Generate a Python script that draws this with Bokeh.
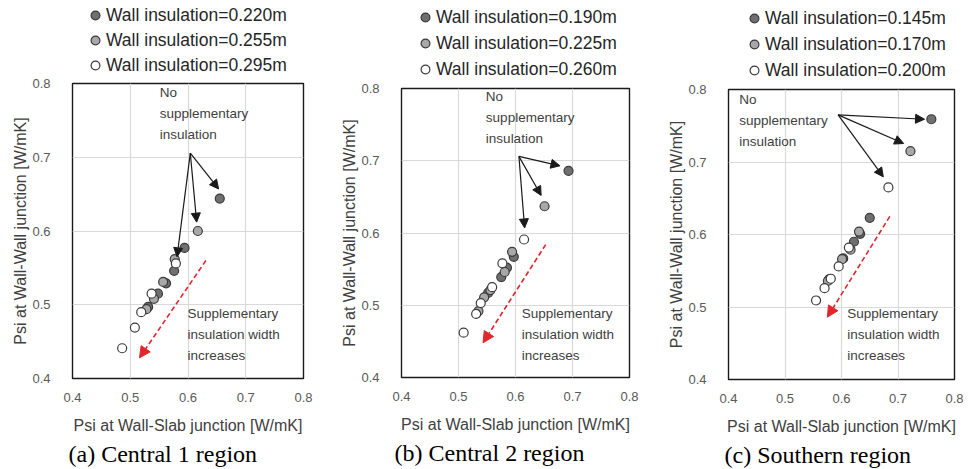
from bokeh.plotting import figure
from bokeh.layouts import row, column
from bokeh.models import (Range1d, FixedTicker, Label, Arrow, NormalHead,
                          Legend, LegendItem)
from bokeh.embed import file_html
from bokeh.resources import INLINE

# ---------------- data ----------------
ticks = [0.4, 0.5, 0.6, 0.7, 0.8]
tick_labels = ["0.4", "0.5", "0.6", "0.7", "0.8"]

x_title = "Psi at Wall-Slab junction [W/mK]"
y_title = "Psi at Wall-Wall junction [W/mK]"
note_top = "No\nsupplementary\ninsulation"
note_bottom = "Supplementary\ninsulation  width\nincreases"

# (a) Central 1 region
a_caption = "(a) Central 1 region"
a_labels = ["Wall insulation=0.220m", "Wall insulation=0.255m", "Wall insulation=0.295m"]
a_x_1 = [0.655, 0.594, 0.576, 0.562, 0.548, 0.531]
a_y_1 = [0.644, 0.577, 0.546, 0.529, 0.515, 0.497]
a_x_2 = [0.617, 0.577, 0.557, 0.541, 0.528]
a_y_2 = [0.600, 0.562, 0.531, 0.508, 0.494]
a_x_3 = [0.579, 0.537, 0.519, 0.508, 0.486]
a_y_3 = [0.556, 0.515, 0.490, 0.469, 0.441]
a_arrow_from = (0.604, 0.7055)
a_arrow_to_x = [0.653, 0.615, 0.581]
a_arrow_to_y = [0.657, 0.612, 0.565]
a_trend = [(0.631, 0.560), (0.516, 0.428)]
a_note_top_xy = (0.551, 0.7986)
a_note_bottom_xy = (0.599, 0.4986)

# (b) Central 2 region
b_caption = "(b) Central 2 region"
b_labels = ["Wall insulation=0.190m", "Wall insulation=0.225m", "Wall insulation=0.260m"]
b_x_1 = [0.693, 0.597, 0.585, 0.575, 0.552]
b_y_1 = [0.686, 0.567, 0.552, 0.539, 0.517]
b_x_2 = [0.651, 0.594, 0.581, 0.556, 0.545, 0.535]
b_y_2 = [0.637, 0.574, 0.546, 0.521, 0.511, 0.492]
b_x_3 = [0.615, 0.577, 0.559, 0.539, 0.531, 0.509]
b_y_3 = [0.591, 0.558, 0.525, 0.503, 0.488, 0.462]
b_arrow_from = (0.606, 0.706)
b_arrow_to_x = [0.678, 0.645, 0.616]
b_arrow_to_y = [0.693, 0.652, 0.607]
b_trend = [(0.653, 0.584), (0.543, 0.448)]
b_note_top_xy = (0.548, 0.799)
b_note_bottom_xy = (0.611, 0.4986)

# (c) Southern region
c_caption = "(c) Southern region"
c_labels = ["Wall insulation=0.145m", "Wall insulation=0.170m", "Wall insulation=0.200m"]
c_x_1 = [0.759, 0.650, 0.633, 0.622, 0.603, 0.578]
c_y_1 = [0.759, 0.623, 0.601, 0.590, 0.567, 0.538]
c_x_2 = [0.722, 0.631, 0.616, 0.601, 0.576]
c_y_2 = [0.715, 0.604, 0.579, 0.566, 0.536]
c_x_3 = [0.683, 0.613, 0.595, 0.581, 0.570, 0.555]
c_y_3 = [0.665, 0.582, 0.556, 0.539, 0.526, 0.509]
c_arrow_from = (0.594, 0.765)
c_arrow_to_x = [0.747, 0.710, 0.674]
c_arrow_to_y = [0.759, 0.7255, 0.6795]
c_trend = [(0.6855, 0.625), (0.575, 0.486)]
c_note_top_xy = (0.419, 0.796)
c_note_bottom_xy = (0.610, 0.501)

# ---------------- styles ----------------
FILLS = ["#6f6f6f", "#a8a8a8", "#ffffff"]
EDGE = "#3a3a3a"
SANS = "Liberation Sans"
SERIF = "Liberation Serif"
CAPTION_H = 32


def blank(width, height):
    # strip without axes; its view range lies away from the data values
    f = figure(width=width, height=height, min_border=0,
               x_axis_type=None, y_axis_type=None,
               x_range=Range1d(-2, -1), y_range=Range1d(-2, -1),
               output_backend="svg", toolbar_location=None,
               frame_align=False)
    f.outline_line_color = None
    f.grid.visible = False
    f.background_fill_color = "white"
    f.border_fill_color = "white"
    return f


def style_marker(fig, xs, ys, fc):
    return fig.scatter(xs, ys, size=9, marker="circle", fill_color=fc,
                       line_color=EDGE, line_width=1.2)


def panel(series, labels, caption, arrow_from, to_x, to_y, trend,
          note_top_xy, note_bottom_xy, layout):
    fw, fh, bl, br, bb, leg_h, leg_x, leg_y, leg_sp, cap_x = layout
    total_w = bl + fw + br

    # ---- main plot ----
    p = figure(frame_width=fw, frame_height=fh,
               min_border_left=bl, min_border_right=br,
               min_border_top=8, min_border_bottom=bb,
               x_range=Range1d(ticks[0], ticks[-1]),
               y_range=Range1d(ticks[0], ticks[-1]),
               output_backend="svg", toolbar_location=None,
               frame_align=False)
    p.background_fill_color = "white"
    p.border_fill_color = "white"
    p.outline_line_color = "#1a1a1a"
    p.outline_line_width = 1.4

    tk = FixedTicker(ticks=ticks)
    overrides = {t: s for t, s in zip(ticks, tick_labels)}
    for ax in (p.xaxis[0], p.yaxis[0]):
        ax.ticker = tk
        ax.major_label_overrides = overrides
        ax.axis_line_color = None
        ax.major_tick_line_color = None
        ax.minor_tick_line_color = None
        ax.major_label_text_font = SANS
        ax.major_label_text_font_size = "13px"
        ax.major_label_text_color = "#595959"
        ax.axis_label_text_font = SANS
        ax.axis_label_text_font_size = "16px"
        ax.axis_label_text_font_style = "normal"
        ax.axis_label_text_color = "#404040"
    p.xaxis.axis_label = x_title
    p.yaxis.axis_label = y_title
    p.xaxis.major_label_standoff = 8
    p.xaxis.axis_label_standoff = 12
    p.yaxis.major_label_standoff = 16
    p.yaxis.axis_label_standoff = 0

    for g in (p.xgrid[0], p.ygrid[0]):
        g.ticker = tk
        g.grid_line_color = "#d9d9d9"
        g.grid_line_width = 1.2

    for (xs, ys), fc in zip(series, FILLS):
        style_marker(p, xs, ys, fc)

    for tx, ty in zip(to_x, to_y):
        p.add_layout(Arrow(x_start=arrow_from[0], y_start=arrow_from[1],
                           x_end=tx, y_end=ty, line_color="#1a1a1a",
                           line_width=1.2,
                           end=NormalHead(size=9, fill_color="#1a1a1a",
                                          line_color="#1a1a1a")))
    p.add_layout(Arrow(x_start=trend[0][0], y_start=trend[0][1],
                       x_end=trend[1][0], y_end=trend[1][1],
                       line_color="#e3262b", line_width=1.6, line_dash="5 3",
                       end=NormalHead(size=11, fill_color="#e3262b",
                                      line_color="#e3262b")))

    for (nx, ny), txt in ((note_top_xy, note_top), (note_bottom_xy, note_bottom)):
        p.add_layout(Label(x=nx, y=ny, text=txt, text_font=SANS,
                           text_font_size="13.5px", text_color="#404040",
                           text_align="left", text_baseline="top",
                           text_line_height=1.4))

    # ---- legend strip above ----
    lg = blank(total_w, leg_h)
    rs = [style_marker(lg, xs, ys, fc) for (xs, ys), fc in zip(series, FILLS)]
    legend = Legend(items=[LegendItem(label=l, renderers=[r])
                           for l, r in zip(labels, rs)],
                    location=(leg_x, leg_y), orientation="vertical",
                    glyph_width=22, glyph_height=22, label_height=22,
                    label_standoff=0, spacing=leg_sp, padding=0, margin=0,
                    border_line_alpha=0, background_fill_alpha=0,
                    label_text_font=SANS, label_text_font_size="17.5px",
                    label_text_color="#262626")
    lg.add_layout(legend)

    # ---- caption strip below ----
    cp = blank(total_w, CAPTION_H)
    cp.add_layout(Label(x=cap_x, y=15, x_units="screen", y_units="screen",
                        text=caption, text_font=SERIF, text_font_size="24px",
                        text_color="black", text_align="left",
                        text_baseline="alphabetic"))
    return column(lg, p, cp, spacing=0)


pa = panel([(a_x_1, a_y_1), (a_x_2, a_y_2), (a_x_3, a_y_3)], a_labels, a_caption,
           a_arrow_from, a_arrow_to_x, a_arrow_to_y, a_trend,
           a_note_top_xy, a_note_bottom_xy,
           (231, 295, 72, 27, 56, 75, 84, -1, 3, 68))
pb = panel([(b_x_1, b_y_1), (b_x_2, b_y_2), (b_x_3, b_y_3)], b_labels, b_caption,
           b_arrow_from, b_arrow_to_x, b_arrow_to_y, b_trend,
           b_note_top_xy, b_note_bottom_xy,
           (228, 289, 71, 27, 57, 80, 84, 0, 4, 64))
pc = panel([(c_x_1, c_y_1), (c_x_2, c_y_2), (c_x_3, c_y_3)], c_labels, c_caption,
           c_arrow_from, c_arrow_to_x, c_arrow_to_y, c_trend,
           c_note_top_xy, c_note_bottom_xy,
           (226, 290, 72, 15, 55, 81, 87, 0, 4, 68))

layout = row(pa, pb, pc, spacing=0)
open("out.html", "w").write(file_html(layout, INLINE))
